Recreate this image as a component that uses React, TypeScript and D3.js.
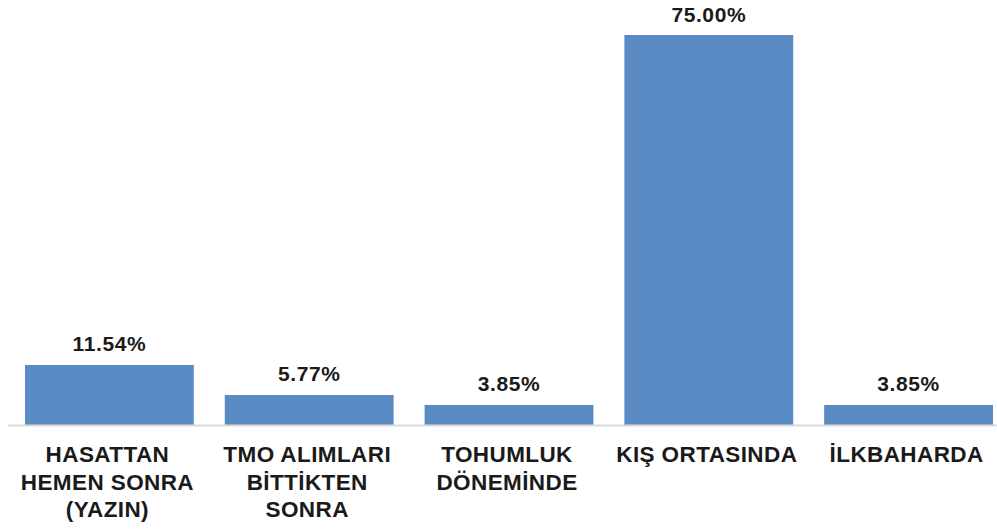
import React from "react";
import * as d3 from "d3";

const categories = ["c1", "c2", "c3", "c4", "c5"];
const categoryLines = [
  ["HASATTAN", "HEMEN SONRA", "(YAZIN)"],
  ["TMO ALIMLARI", "BİTTİKTEN", "SONRA"],
  ["TOHUMLUK", "DÖNEMİNDE"],
  ["KIŞ ORTASINDA"],
  ["İLKBAHARDA"],
];
const values = [11.54, 5.77, 3.85, 75.0, 3.85];
const valueLabels = ["11.54%", "5.77%", "3.85%", "75.00%", "3.85%"];

const W = 997;
const H = 529;

export default function App() {
  const x = d3
    .scaleBand<string>()
    .domain(categories)
    .range([9.5, 1008.5])
    .paddingInner(0.155)
    .paddingOuter(0.0775);
  const y = d3.scaleLinear().domain([0, 75]).range([425, 35]);
  const font = "'Liberation Sans', Arial, sans-serif";

  return (
    <svg
      width={W}
      height={H}
      style={{ position: "absolute", left: 0, top: 0, background: "#fff" }}
    >
      {categories.map((c, i) => (
        <rect
          key={c}
          x={x(c)}
          y={y(values[i])}
          width={x.bandwidth()}
          height={y(0) - y(values[i])}
          fill="#5b8bc5"
        />
      ))}
      <line x1={8} x2={W} y1={425.5} y2={425.5} stroke="#d9d9d9" strokeWidth={2} />
      {categories.map((c, i) => (
        <text
          key={"v" + c}
          x={(x(c) as number) + x.bandwidth() / 2}
          y={y(values[i]) - 13.5}
          textAnchor="middle"
          fontFamily={font}
          fontWeight="bold"
          fontSize={21}
          letterSpacing={0.6}
          fill="#1a1a1a"
        >
          {valueLabels[i]}
        </text>
      ))}
      {categories.map((c, i) => (
        <text
          key={"c" + c}
          textAnchor="middle"
          fontFamily={font}
          fontWeight="bold"
          fontSize={22.5}
          letterSpacing={0.4}
          fill="#1a1a1a"
        >
          {categoryLines[i].map((l, j) => (
            <tspan key={j} x={(x(c) as number) + x.bandwidth() / 2 - 2} y={462 + j * 27.7}>
              {l}
            </tspan>
          ))}
        </text>
      ))}
    </svg>
  );
}
